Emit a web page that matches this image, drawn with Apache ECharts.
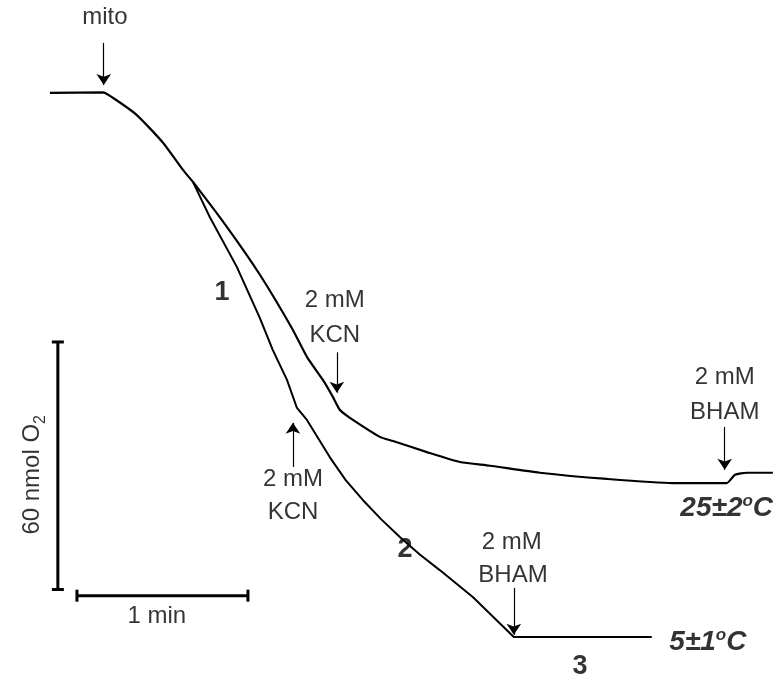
<!DOCTYPE html>
<html>
<head>
<meta charset="utf-8">
<script src="https://cdn.jsdelivr.net/npm/echarts@6/dist/echarts.min.js"></script>
<style>
html, body { margin: 0; background: #fff; }
#trace { width: 780px; height: 679px; }
</style>
</head>
<body>
<div id="trace"></div>
<script>
// trace at 25 C : time (s), O2 (nmol)
var time25 = [0.7, 19.3, 22.8, 31.2, 40.4, 47.4, 50.9, 62.8, 74.4, 85.6, 90.9, 96.5, 100.0, 102.5, 106.0,
    116.5, 121.1, 133.0, 144.6, 155.1, 172.6, 196.1, 219.3, 238.2, 241.1, 245.3, 254.4];
var o2_25 = [139.9, 140.0, 138.7, 134.5, 127.8, 121.2, 118.3, 107.4, 95.8, 82.9, 75.9, 70.3, 66.2, 63.0, 61.1,
    56.5, 55.5, 52.8, 50.4, 49.5, 47.8, 46.3, 45.3, 45.3, 47.3, 47.8, 47.8];

// trace at 5 C (branches off the 25 C trace)
var time5 = [50.9, 56.8, 66.3, 74.4, 78.9, 83.9, 87.4, 90.9, 98.9, 104.5, 110.5, 117.0, 123.5, 130.5, 137.5, 149.1, 163.5, 211.9];
var o2_5 = [118.3, 109.8, 97.7, 85.3, 77.6, 70.3, 63.5, 60.6, 51.6, 46.0, 41.2, 36.5, 32.2, 28.0, 24.2, 17.7, 8.0, 8.0];

// scale bars
var barO2 = [[3.5, 19.5], [3.5, 79.5]];   // 60 nmol O2
var barTime = [[10.2, 18], [70.2, 18]];   // 1 min

// additions: time, arrow start, arrow end
var addTime = [19.6, 101.4, 86.0, 163.5, 237.5];
var addFrom = [152.0, 77.0, 49.2, 19.9, 58.9];
var addTo = [141.8, 67.2, 59.9, 8.5, 48.5];

// text annotations
var labelText = ['mito', '2 mM', 'KCN', '2 mM', 'KCN', '2 mM', 'BHAM', '2 mM', 'BHAM',
    '1', '2', '3', '{t|25±2}{s|o}{t|C}', '{t|5±1}{s|o}{t|C}', '1 min', '{n|60 nmol O}{b|2}'];
var labelTime = [20.0, 100.7, 100.7, 86.0, 86.0, 237.5, 237.5, 162.8, 163.2,
    61.1, 125.3, 186.7, 238.2, 231.6, 38.2, -5.6];
var labelO2 = [158.3, 89.7, 81.0, 46.1, 38.3, 70.8, 62.5, 31.0, 23.0,
    91.6, 29.3, 0.7, 39.3, 6.8, 13.1, 47.3];
var labelKind = ['plain', 'plain', 'plain', 'plain', 'plain', 'plain', 'plain', 'plain', 'plain',
    'num', 'num', 'num', 'temp', 'temp', 'plain', 'axis'];

var font = 'Liberation Sans, Arial, sans-serif';

function zip(xs, ys) {
    return xs.map(function (x, i) { return [x, ys[i]]; });
}

var kindStyle = {
    plain: { fontSize: 24 },
    num: { fontSize: 27, fontWeight: 'bold' },
    temp: {
        rich: {
            t: { fontSize: 28, fontWeight: 'bold', fontStyle: 'italic', fontFamily: font, color: '#000', lineHeight: 30 },
            s: { fontSize: 17, fontWeight: 'bold', fontStyle: 'italic', fontFamily: font, color: '#000', verticalAlign: 'top', lineHeight: 30 }
        }
    },
    axis: {
        rotate: 90,
        rich: {
            n: { fontSize: 24, fontFamily: font, color: '#000', lineHeight: 28 },
            b: { fontSize: 16, fontFamily: font, color: '#000', verticalAlign: 'bottom', lineHeight: 34 }
        }
    }
};

var labelData = labelText.map(function (txt, i) {
    var st = kindStyle[labelKind[i]];
    return {
        value: [labelTime[i], labelO2[i]],
        label: Object.assign({ formatter: txt }, st)
    };
});

var arrowData = addTime.map(function (t, i) {
    return [{ coord: [t, addFrom[i]] }, { coord: [t, addTo[i]] }];
});

var myChart = echarts.init(document.getElementById('trace'));

var option = {
    animation: false,
    backgroundColor: '#fff',
    grid: { left: 0, right: 0, top: 0, bottom: 0 },
    xAxis: { type: 'value', min: -16.8, max: 256.9, show: false },
    yAxis: { type: 'value', min: -2.2, max: 162.4, show: false },
    series: [
        {
            type: 'line',
            data: zip(time25, o2_25),
            symbol: 'none',
            smooth: 0.2,
            lineStyle: { color: '#000', width: 2.2 }
        },
        {
            type: 'line',
            data: zip(time5, o2_5),
            symbol: 'none',
            lineStyle: { color: '#000', width: 2 }
        },
        {
            type: 'line',
            data: barO2,
            symbol: 'rect',
            symbolSize: [12, 3],
            itemStyle: { color: '#000' },
            lineStyle: { color: '#000', width: 3 }
        },
        {
            type: 'line',
            data: barTime,
            symbol: 'rect',
            symbolSize: [3, 12],
            itemStyle: { color: '#000' },
            lineStyle: { color: '#000', width: 3 }
        },
        {
            type: 'scatter',
            symbolSize: 0,
            clip: false,
            silent: true,
            label: {
                show: true,
                position: 'inside',
                color: '#000',
                fontFamily: font
            },
            data: labelData,
            markLine: {
                silent: true,
                symbol: ['none', 'arrow'],
                symbolSize: 11,
                label: { show: false },
                itemStyle: { color: '#000' },
                lineStyle: { color: '#000', width: 1.2, type: 'solid' },
                data: arrowData
            }
        }
    ]
};

myChart.setOption(option);
</script>
</body>
</html>
